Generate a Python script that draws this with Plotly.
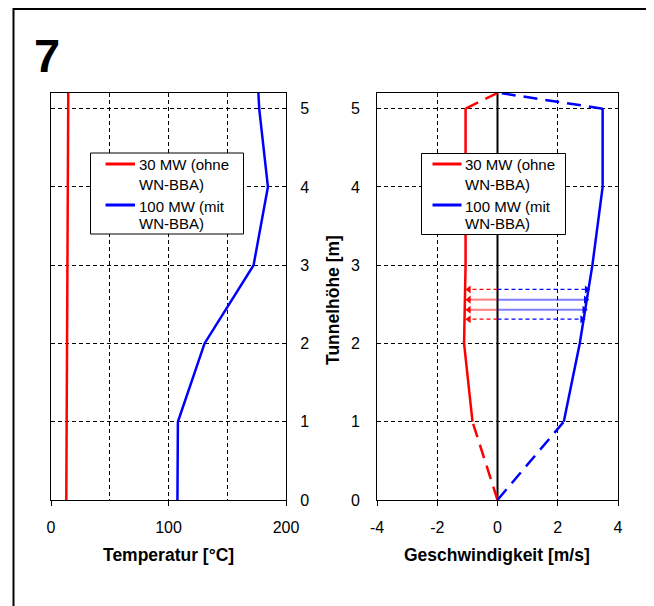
import plotly.graph_objects as go

# ---- data ----
heights = [0, 1, 2, 3, 4, 5, 5.2]
temp_30 = [13.0, 13.4, 13.9, 14.1, 14.3, 14.5, 14.7]
temp_100 = [107.6, 108.0, 130.7, 172.4, 184.6, 177.2, 176.5]
vel_30 = [0, -0.83, -1.11, -1.06, -1.05, -1.06, 0.0]
vel_100 = [0, 2.2, 2.73, 3.15, 3.49, 3.49, 0.08]

arrow_heights = [2.69, 2.56, 2.43, 2.31]
arrow_left = [-0.95, -0.95, -0.95, -0.95]
arrow_right = [2.96, 2.93, 2.88, 2.81]
arrow_dashed = [True, False, False, True]

temp_ticks = [0, 100, 200]
temp_ticktext = ["0", "100", "200"]
vel_ticks = [-4, -2, 0, 2, 4]
vel_ticktext = ["-4", "-2", "0", "2", "4"]
height_ticks = [0, 1, 2, 3, 4, 5]

label_30 = ["30 MW (ohne", "WN-BBA)"]
label_100 = ["100 MW (mit", "WN-BBA)"]
RED = "#ff0000"
BLUE = "#0000ff"
FONT = "Liberation Sans, Arial, sans-serif"

# page body has an 8px margin; positions below are given in window pixels
OFF = 8
W, H = 654 - OFF, 606 - OFF
def px_x(v): return (v - OFF) / W
def px_y(v): return 1 - (v - OFF) / H

fig = go.Figure()

# Left panel: temperature
fig.add_trace(go.Scatter(x=temp_30, y=heights, mode="lines", name=" ".join(label_30),
                         line=dict(color=RED, width=2.5), xaxis="x", yaxis="y"))
fig.add_trace(go.Scatter(x=temp_100, y=heights, mode="lines", name=" ".join(label_100),
                         line=dict(color=BLUE, width=2.5), xaxis="x", yaxis="y"))

# Right panel: velocity
DASH = "14px,8px"
fig.add_trace(go.Scatter(x=[0, 0], y=[heights[0], heights[-1]], mode="lines",
                         line=dict(color="black", width=2), xaxis="x2", yaxis="y2",
                         hoverinfo="skip"))
for vel, col, lab in [(vel_30, RED, label_30), (vel_100, BLUE, label_100)]:
    fig.add_trace(go.Scatter(x=vel[1:6], y=heights[1:6], mode="lines", name=" ".join(lab),
                             line=dict(color=col, width=2.5), xaxis="x2", yaxis="y2"))
    fig.add_trace(go.Scatter(x=vel[0:2], y=heights[0:2], mode="lines",
                             line=dict(color=col, width=2.5, dash=DASH), xaxis="x2", yaxis="y2"))
    fig.add_trace(go.Scatter(x=vel[5:7], y=heights[5:7], mode="lines",
                             line=dict(color=col, width=2.5, dash=DASH), xaxis="x2", yaxis="y2"))

# arrows
for h, xl, xr, dashed in zip(arrow_heights, arrow_left, arrow_right, arrow_dashed):
    for xe, col, sym in [(xl, RED, "triangle-left"), (xr, BLUE, "triangle-right")]:
        if dashed:
            ln = dict(color=col, width=1.2, dash="4px,3px")
            op = 1.0
        else:
            ln = dict(color=col, width=2)
            op = 0.5
        fig.add_trace(go.Scatter(x=[0, xe], y=[h, h], mode="lines", line=ln, opacity=op,
                                 xaxis="x2", yaxis="y2", hoverinfo="skip"))
        fig.add_trace(go.Scatter(x=[xe], y=[h], mode="markers",
                                 marker=dict(symbol=sym, size=7, color=col),
                                 xaxis="x2", yaxis="y2", hoverinfo="skip"))

axis_common = dict(showline=True, linecolor="black", linewidth=1, mirror=True,
                   zeroline=False, tickfont=dict(family=FONT, size=16, color="black"))
grid = dict(showgrid=True, gridcolor="black", gridwidth=1, griddash="4px,3px")

fig.update_layout(
    width=W, height=H, autosize=False,
    margin=dict(l=0, r=0, t=0, b=0, autoexpand=False),
    plot_bgcolor="white", paper_bgcolor="white",
    font=dict(family=FONT, size=15, color="black"),
    showlegend=False,
    xaxis=dict(domain=[px_x(51), px_x(286)], range=[0, 200],
               tickmode="array", tickvals=temp_ticks, ticktext=temp_ticktext,
               ticks="outside", ticklen=5, tickcolor="black", ticklabelstandoff=8,
               minor=dict(dtick=50, showgrid=True, gridcolor="black", griddash="4px,3px", gridwidth=1),
               anchor="y", **grid, **axis_common),
    yaxis=dict(domain=[px_y(500), px_y(93)], range=[0, 5.2],
               tickmode="array", tickvals=height_ticks, side="right",
               ticks="", ticklabelstandoff=10, anchor="x", **grid, **axis_common),
    xaxis2=dict(domain=[px_x(377), px_x(618)], range=[-4, 4],
                tickmode="array", tickvals=vel_ticks, ticktext=vel_ticktext,
                ticks="outside", ticklen=5, tickcolor="black", ticklabelstandoff=8,
                anchor="y2", **grid, **axis_common),
    yaxis2=dict(domain=[px_y(500), px_y(93)], range=[0, 5.2],
                tickmode="array", tickvals=height_ticks, side="left",
                ticks="", ticklabelstandoff=13, anchor="x2", **grid, **axis_common),
)

# outer frame
fig.add_shape(type="rect", xref="paper", yref="paper",
              x0=px_x(13.5), x1=1.05, y0=-0.05, y1=px_y(9),
              line=dict(color="black", width=2), layer="below")

# manual legends (window pixel geometry)
def add_legend(box_l, box_r, box_t, box_b, line_l, line_r, text_l):
    fig.add_shape(type="rect", xref="paper", yref="paper",
                  x0=px_x(box_l), x1=px_x(box_r), y0=px_y(box_b), y1=px_y(box_t),
                  line=dict(color="black", width=1), fillcolor="white", layer="above")
    for col, lab, y1, y2 in [(RED, label_30, 165, 184), (BLUE, label_100, 206, 223)]:
        fig.add_shape(type="line", xref="paper", yref="paper",
                      x0=px_x(line_l), x1=px_x(line_r), y0=px_y(y1 - 1), y1=px_y(y1 - 1),
                      line=dict(color=col, width=3), layer="above")
        for txt, yy in [(lab[0], y1), (lab[1], y2)]:
            fig.add_annotation(text=txt, xref="paper", yref="paper", x=px_x(text_l - 1),
                               y=px_y(yy), xanchor="left", yanchor="middle", showarrow=False,
                               font=dict(family=FONT, size=15, color="black"))

add_legend(90.5, 243.5, 153, 234, 105.5, 135, 137.5)
add_legend(421.5, 565.5, 153.5, 234.5, 432.5, 461.5, 464)

# texts
fig.add_annotation(text="<b>7</b>", xref="paper", yref="paper", x=px_x(47), y=px_y(55),
                   xanchor="center", yanchor="middle", showarrow=False,
                   font=dict(family=FONT, size=47, color="black"))
fig.add_annotation(text="<b>Temperatur [°C]</b>", xref="paper", yref="paper",
                   x=px_x(168), y=px_y(555), xanchor="center", yanchor="middle", showarrow=False,
                   font=dict(family=FONT, size=17.5, color="black"))
fig.add_annotation(text="<b>Geschwindigkeit [m/s]</b>", xref="paper", yref="paper",
                   x=px_x(497), y=px_y(555), xanchor="center", yanchor="middle", showarrow=False,
                   font=dict(family=FONT, size=17.5, color="black"))
fig.add_annotation(text="<b>Tunnelhöhe [m]</b>", xref="paper", yref="paper",
                   x=px_x(333), y=px_y(300), xanchor="center", yanchor="middle",
                   showarrow=False, textangle=-90,
                   font=dict(family=FONT, size=17.5, color="black"))

fig.write_html("out.html")
